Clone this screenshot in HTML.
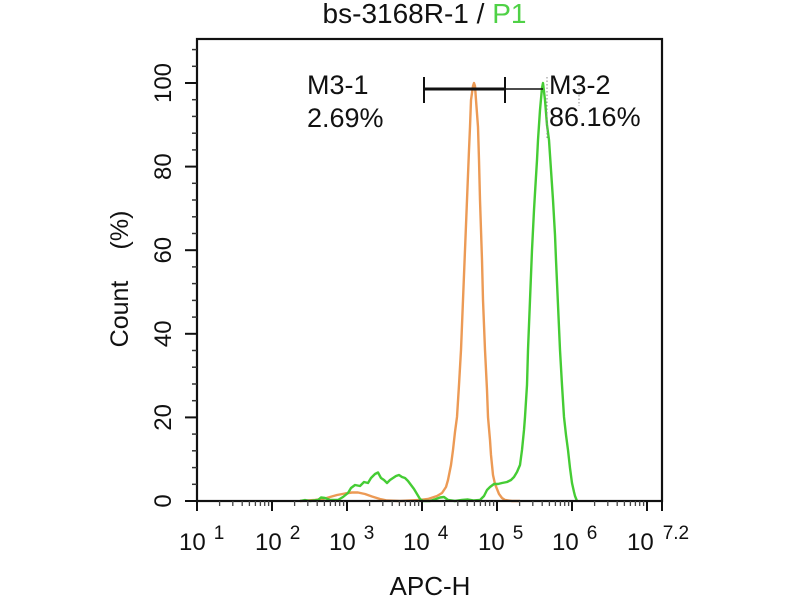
<!DOCTYPE html>
<html>
<head>
<meta charset="utf-8">
<style>
  html, body { margin:0; padding:0; background:#ffffff; }
  svg { display:block; }
  text { font-family: "Liberation Sans", Arial, sans-serif; fill:#111; }
</style>
</head>
<body>
<svg width="800" height="600" viewBox="0 0 800 600" xmlns="http://www.w3.org/2000/svg">
  <rect x="0" y="0" width="800" height="600" fill="#ffffff"/>

  <!-- Title -->
  <text x="424.5" y="23" font-size="28" text-anchor="middle">bs-3168R-1 / <tspan fill="#4fd146">P1</tspan></text>

  <!-- Curves -->
  <polyline fill="none" stroke="#ec9a55" stroke-width="2.4" stroke-linejoin="round"
    points="300,501 315,500 323,499 330,497 337,495 345,493.5 352,492.5 358,492.5 365,494 372,496.5 380,499 387,500.5 400,501 410,500.5 420,500 428,499 437,496 442,493 446,487 448,480 451,465 453,450 455,432 457,417 459,385 461,350 463,300 465,250 467,200 469,150 470,127 471,100 473,86 474,83 475,86 476,100 478,127 479,160 480,200 482,260 483,300 485,350 487,390 488,417 490,440 491,455 493,475 495,484 497,489 499,494 502,498 505,500 512,501 520,501"/>
  <polyline fill="none" stroke="#45cc34" stroke-width="2.4" stroke-linejoin="round"
    points="300,501 305,500 310,501 318,500 321,497.5 325,498 330,500 338,500 343,497 348,493 351,488 355,485 360,486 364,482 368,483 371,478 375,474 378,472.5 381,478 384,480 387,483 390,480 393,478 396,476 399,475 402,477 405,478 408,481 411,485 414,489 417,494 420,499 423,501 430,501 436,499 440,497.5 444,497 448,500 455,501 462,500 468,499.5 474,500.5 480,500 484,496 487,490 490,487 494,484 498,484 502,483 507,482 511,480 514,477 517,472 520,465 522,450 524,430 525,417 527,385 528,350 530,300 532,250 534,210 535,193 537,160 538,140 540,110 542,88 543,83 545,100 547,125 549,140 551,170 553,200 555,235 556,260 558,305 560,350 562,385 564,417 566,435 568,450 570,468 572,483 574,492 575,496 577,501"/>

  <!-- Dotted marker lines -->
  <line x1="547" y1="77" x2="547" y2="140" stroke="#888" stroke-width="1" stroke-dasharray="1.5,2"/>
  <line x1="579" y1="88" x2="579" y2="106" stroke="#888" stroke-width="1" stroke-dasharray="1.5,2"/>

  <!-- M3 marker bar -->
  <line x1="424" y1="89" x2="505" y2="89" stroke="#111" stroke-width="3"/>
  <line x1="505" y1="89" x2="543" y2="89" stroke="#111" stroke-width="1.5"/>
  <line x1="424" y1="77" x2="424" y2="103" stroke="#111" stroke-width="2"/>
  <line x1="505" y1="77" x2="505" y2="103" stroke="#111" stroke-width="2"/>

  <!-- Marker labels -->
  <text x="307" y="94" font-size="27">M3-1</text>
  <text x="307" y="127" font-size="27">2.69%</text>
  <text x="549" y="94" font-size="27">M3-2</text>
  <text x="549" y="126" font-size="27">86.16%</text>

  <!-- Plot box -->
  <rect x="197" y="39" width="465" height="462" fill="none" stroke="#111" stroke-width="2.2"/>

  <!-- Y ticks -->
  <g stroke="#111" stroke-width="2">
    <line x1="185" y1="501" x2="197" y2="501"/>
    <line x1="185" y1="417.4" x2="197" y2="417.4"/>
    <line x1="185" y1="333.8" x2="197" y2="333.8"/>
    <line x1="185" y1="250.2" x2="197" y2="250.2"/>
    <line x1="185" y1="166.6" x2="197" y2="166.6"/>
    <line x1="185" y1="83" x2="197" y2="83"/>
  </g>
  <g stroke="#333" stroke-width="1.5">
    <line x1="192" y1="484.3" x2="197" y2="484.3"/>
    <line x1="192" y1="467.6" x2="197" y2="467.6"/>
    <line x1="192" y1="450.8" x2="197" y2="450.8"/>
    <line x1="192" y1="434.1" x2="197" y2="434.1"/>
    <line x1="192" y1="400.7" x2="197" y2="400.7"/>
    <line x1="192" y1="384.0" x2="197" y2="384.0"/>
    <line x1="192" y1="367.2" x2="197" y2="367.2"/>
    <line x1="192" y1="350.5" x2="197" y2="350.5"/>
    <line x1="192" y1="317.1" x2="197" y2="317.1"/>
    <line x1="192" y1="300.4" x2="197" y2="300.4"/>
    <line x1="192" y1="283.6" x2="197" y2="283.6"/>
    <line x1="192" y1="266.9" x2="197" y2="266.9"/>
    <line x1="192" y1="233.5" x2="197" y2="233.5"/>
    <line x1="192" y1="216.8" x2="197" y2="216.8"/>
    <line x1="192" y1="200.0" x2="197" y2="200.0"/>
    <line x1="192" y1="183.3" x2="197" y2="183.3"/>
    <line x1="192" y1="149.9" x2="197" y2="149.9"/>
    <line x1="192" y1="133.2" x2="197" y2="133.2"/>
    <line x1="192" y1="116.4" x2="197" y2="116.4"/>
    <line x1="192" y1="99.7" x2="197" y2="99.7"/>
    <line x1="192" y1="66.3" x2="197" y2="66.3"/>
    <line x1="192" y1="49.6" x2="197" y2="49.6"/>
  </g>

  <!-- Y tick labels (rotated) -->
  <g font-size="24" text-anchor="middle">
    <text transform="translate(171,501) rotate(-90)">0</text>
    <text transform="translate(171,417.4) rotate(-90)">20</text>
    <text transform="translate(171,333.8) rotate(-90)">40</text>
    <text transform="translate(171,250.2) rotate(-90)">60</text>
    <text transform="translate(171,166.6) rotate(-90)">80</text>
    <text transform="translate(171,83) rotate(-90)">100</text>
  </g>

  <!-- Y axis label -->
  <text transform="translate(128,314) rotate(-90)" font-size="25" text-anchor="middle">Count</text>
  <text transform="translate(128,230) rotate(-90)" font-size="25" text-anchor="middle">(%)</text>

  <!-- X major ticks -->
  <g stroke="#111" stroke-width="2">
    <line x1="197" y1="501" x2="197" y2="511"/>
    <line x1="272" y1="501" x2="272" y2="511"/>
    <line x1="347" y1="501" x2="347" y2="511"/>
    <line x1="422" y1="501" x2="422" y2="511"/>
    <line x1="497" y1="501" x2="497" y2="511"/>
    <line x1="572" y1="501" x2="572" y2="511"/>
    <line x1="647" y1="501" x2="647" y2="511"/>
    <line x1="662" y1="501" x2="662" y2="511"/>
  </g>
  <!-- X minor ticks -->
  <g stroke="#444" stroke-width="1.3">
    <line x1="219.6" y1="501" x2="219.6" y2="506"/><line x1="232.8" y1="501" x2="232.8" y2="506"/><line x1="242.2" y1="501" x2="242.2" y2="506"/><line x1="249.4" y1="501" x2="249.4" y2="506"/><line x1="255.4" y1="501" x2="255.4" y2="506"/><line x1="260.4" y1="501" x2="260.4" y2="506"/><line x1="264.7" y1="501" x2="264.7" y2="506"/><line x1="268.6" y1="501" x2="268.6" y2="506"/>
    <line x1="294.6" y1="501" x2="294.6" y2="506"/><line x1="307.8" y1="501" x2="307.8" y2="506"/><line x1="317.2" y1="501" x2="317.2" y2="506"/><line x1="324.4" y1="501" x2="324.4" y2="506"/><line x1="330.4" y1="501" x2="330.4" y2="506"/><line x1="335.4" y1="501" x2="335.4" y2="506"/><line x1="339.7" y1="501" x2="339.7" y2="506"/><line x1="343.6" y1="501" x2="343.6" y2="506"/>
    <line x1="369.6" y1="501" x2="369.6" y2="506"/><line x1="382.8" y1="501" x2="382.8" y2="506"/><line x1="392.2" y1="501" x2="392.2" y2="506"/><line x1="399.4" y1="501" x2="399.4" y2="506"/><line x1="405.4" y1="501" x2="405.4" y2="506"/><line x1="410.4" y1="501" x2="410.4" y2="506"/><line x1="414.7" y1="501" x2="414.7" y2="506"/><line x1="418.6" y1="501" x2="418.6" y2="506"/>
    <line x1="444.6" y1="501" x2="444.6" y2="506"/><line x1="457.8" y1="501" x2="457.8" y2="506"/><line x1="467.2" y1="501" x2="467.2" y2="506"/><line x1="474.4" y1="501" x2="474.4" y2="506"/><line x1="480.4" y1="501" x2="480.4" y2="506"/><line x1="485.4" y1="501" x2="485.4" y2="506"/><line x1="489.7" y1="501" x2="489.7" y2="506"/><line x1="493.6" y1="501" x2="493.6" y2="506"/>
    <line x1="519.6" y1="501" x2="519.6" y2="506"/><line x1="532.8" y1="501" x2="532.8" y2="506"/><line x1="542.2" y1="501" x2="542.2" y2="506"/><line x1="549.4" y1="501" x2="549.4" y2="506"/><line x1="555.4" y1="501" x2="555.4" y2="506"/><line x1="560.4" y1="501" x2="560.4" y2="506"/><line x1="564.7" y1="501" x2="564.7" y2="506"/><line x1="568.6" y1="501" x2="568.6" y2="506"/>
    <line x1="594.6" y1="501" x2="594.6" y2="506"/><line x1="607.8" y1="501" x2="607.8" y2="506"/><line x1="617.2" y1="501" x2="617.2" y2="506"/><line x1="624.4" y1="501" x2="624.4" y2="506"/><line x1="630.4" y1="501" x2="630.4" y2="506"/><line x1="635.4" y1="501" x2="635.4" y2="506"/><line x1="639.7" y1="501" x2="639.7" y2="506"/><line x1="643.6" y1="501" x2="643.6" y2="506"/>
  </g>

  <!-- X tick labels -->
  <g font-size="24">
    <text x="179" y="550">10<tspan dx="8" dy="-11" font-size="19">1</tspan></text>
    <text x="255" y="550">10<tspan dx="8" dy="-11" font-size="19">2</tspan></text>
    <text x="329" y="550">10<tspan dx="8" dy="-11" font-size="19">3</tspan></text>
    <text x="403" y="550">10<tspan dx="8" dy="-11" font-size="19">4</tspan></text>
    <text x="478" y="550">10<tspan dx="8" dy="-11" font-size="19">5</tspan></text>
    <text x="552" y="550">10<tspan dx="8" dy="-11" font-size="19">6</tspan></text>
    <text x="627" y="550">10<tspan dx="9" dy="-11" font-size="19">7.2</tspan></text>
  </g>

  <!-- X axis label -->
  <text x="430" y="595" font-size="26" text-anchor="middle">APC-H</text>
</svg>
</body>
</html>
